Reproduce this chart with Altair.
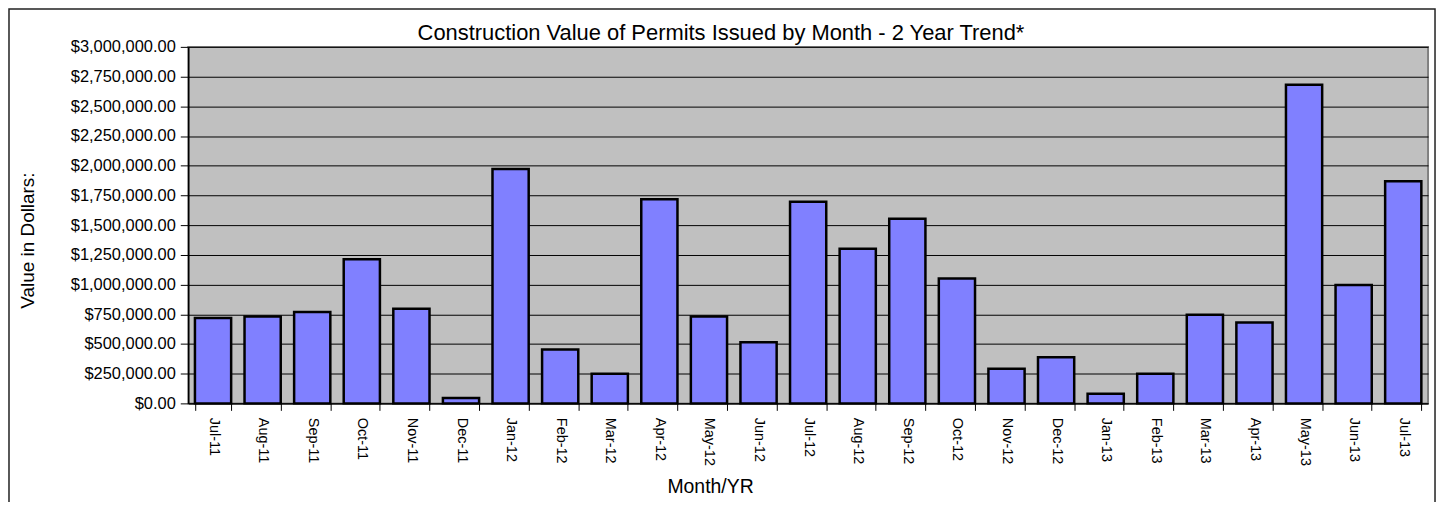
import altair as alt
import pandas as pd

months = ["Jul-11", "Aug-11", "Sep-11", "Oct-11", "Nov-11", "Dec-11",
          "Jan-12", "Feb-12", "Mar-12", "Apr-12", "May-12", "Jun-12",
          "Jul-12", "Aug-12", "Sep-12", "Oct-12", "Nov-12", "Dec-12",
          "Jan-13", "Feb-13", "Mar-13", "Apr-13", "May-13", "Jun-13", "Jul-13"]
values = [718000, 732000, 768000, 1213000, 796000, 45000,
          1972000, 453000, 249000, 1718000, 732000, 514000,
          1696000, 1302000, 1553000, 1050000, 291000, 388000,
          81000, 249000, 746000, 681000, 2682000, 997000, 1869000]
y_ticks = [i * 250000 for i in range(13)]
chart_title = "Construction Value of Permits Issued by Month - 2 Year Trend*"

FONT = "Liberation Sans"

df = pd.DataFrame({"month": months, "value": values})

W, H = 1245, 358

bars = alt.Chart(df).mark_bar(
    fill="#8080FF", stroke="black", strokeWidth=2.5
).encode(
    x=alt.X("month:N", sort=months,
            scale=alt.Scale(paddingInner=0.27, paddingOuter=0.135),
            axis=alt.Axis(title="Month/YR", labelAngle=90, labelAlign="left",
                          labelBaseline="middle", labelPadding=7,
                          labelFontSize=14.5, labelFont=FONT, labelColor="black",
                          tickBand="extent", tickSize=7, tickColor="black",
                          domainColor="black", domainWidth=1.5,
                          titleFont=FONT, titleFontSize=19.5, titleFontWeight="normal",
                          titleColor="black", titleX=524, titleY=83,
                          titleBaseline="middle", titleAlign="center")),
    y=alt.Y("value:Q",
            scale=alt.Scale(domain=[0, 3000000], nice=False),
            axis=alt.Axis(title="Value in Dollars:", values=y_ticks, format="$,.2f",
                          labelFont=FONT, labelFontSize=16.5, labelColor="black",
                          labelPadding=5, tickSize=8, tickColor="black",
                          domainColor="black", domainWidth=1.5,
                          grid=True, gridColor="black", gridWidth=1,
                          titleFont=FONT, titleFontSize=19, titleFontWeight="normal",
                          titleColor="black", titleX=-161, titleY=194,
                          titleBaseline="middle", titleAlign="center", titleAngle=-90)),
)

title_text = alt.Chart(pd.DataFrame({"t": [chart_title]})).mark_text(
    font=FONT, fontSize=22, color="black", align="center", baseline="alphabetic"
).encode(
    text="t:N", x=alt.value(535), y=alt.value(-7)
)

border = alt.Chart(pd.DataFrame({"a": [0]})).mark_rect(
    fill=None, stroke="#222222", strokeWidth=1.5, clip=False
).encode(
    x=alt.value(-180), x2=alt.value(1252),
    y=alt.value(-38), y2=alt.value(480)
)

chart = alt.layer(bars, title_text, border).properties(
    width=W, height=H,
    padding={"left": 181, "top": 38, "right": 10, "bottom": 98},
    autosize=alt.AutoSizeParams(type="none"),
).configure_view(
    fill="#C0C0C0", stroke="#808080", strokeWidth=2
)

chart.save("out.html", embed_options={"renderer": "svg", "actions": False})
